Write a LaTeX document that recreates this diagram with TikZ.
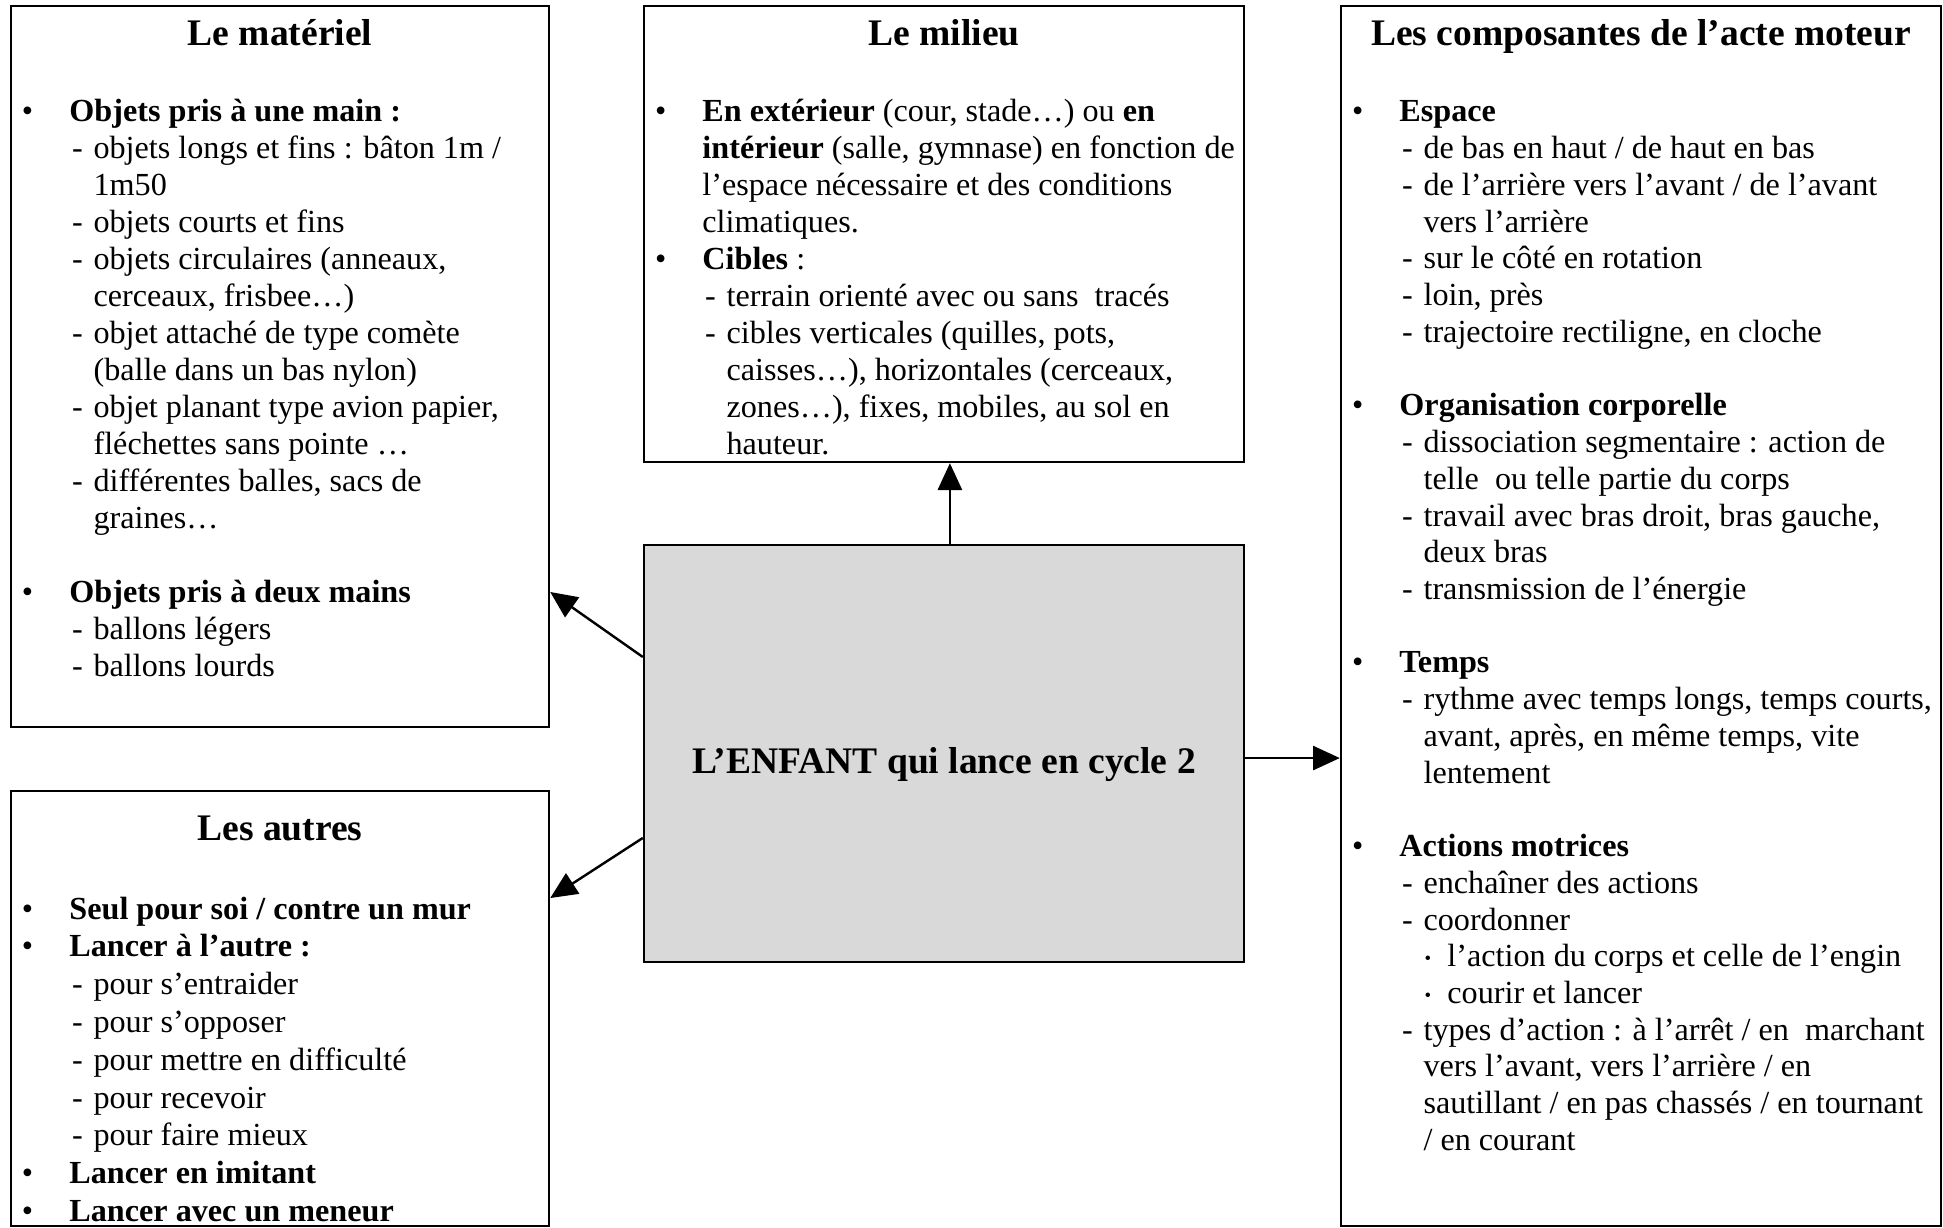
\documentclass[tikz,border=0pt]{standalone}
\usepackage{fontspec}
\setmainfont{Liberation Serif}
\usetikzlibrary{arrows.meta, fit}

% list lines
\newcommand{\bitem}{\hspace*{3.9pt}\makebox[17.7pt][l]{\textbullet}}
\newcommand{\hitem}{\hspace*{21.6pt}}
\newcommand{\ditem}{\hspace*{22.6pt}\makebox[8pt][l]{-}}
\newcommand{\citem}{\hspace*{30.6pt}}
\newcommand{\pitem}{\hspace*{31pt}\makebox[8.5pt][l]{\raisebox{.15ex}{\scriptsize\textbullet}}}

\begin{document}
\begin{tikzpicture}[x=0.373pt,y=-0.373pt,>={Triangle[length=10pt,width=9pt]}]
    % styles
    \tikzset{box/.style={draw,line width=0.9pt,inner sep=0pt},
             ttl/.style={anchor=base,inner sep=0pt,font=\fontsize{14}{16}\selectfont\bfseries},
             txt/.style={anchor=base west,inner sep=0pt,font=\fontsize{12}{13.8}\selectfont},
             arr/.style={->,line width=0.9pt}}
    \useasboundingbox (0,0) rectangle (1943,1228);

    % boxes
    \node[box,fit={(11,6) (549,727)}]     (mat)  {};
    \node[box,fit={(644,6) (1244,462)}]   (mil)  {};
    \node[box,fit={(11,791) (549,1226)}]  (aut)  {};
    \node[box,fit={(1341,6) (1941,1226)}] (comp) {};
    \node[box,fill=black!15,fit={(644,545) (1244,962)}] (enf) {};
    \node[ttl,anchor=center] (enfT) at ([yshift=-4pt]enf.center) {L’ENFANT qui lance en cycle 2};

    % titles
    \node[ttl] (matT)  at (280,46)  {Le matériel};
    \node[ttl] (milT)  at (944,46)  {Le milieu};
    \node[ttl] (autT)  at (280,840) {Les autres};
    \node[ttl] (compT) at (1641,46) {Les composantes de l’acte moteur};

    % lists
    \node[txt] (matL) at (11,122) {\parbox[t]{200pt}{\raggedright
        \bitem\textbf{Objets pris à une main :}\\
        \ditem objets longs et fins : bâton 1m /\\
        \citem 1m50\\
        \ditem objets courts et fins\\
        \ditem objets circulaires (anneaux,\\
        \citem cerceaux, frisbee…)\\
        \ditem objet attaché de type comète\\
        \citem (balle dans un bas nylon)\\
        \ditem objet planant type avion papier,\\
        \citem fléchettes sans pointe …\\
        \ditem différentes balles, sacs de\\
        \citem graines…\\[13.8pt]
        \bitem\textbf{Objets pris à deux mains}\\
        \ditem ballons légers\\
        \ditem ballons lourds}};

    \node[txt] (milL) at (644,122) {\parbox[t]{223pt}{\raggedright
        \bitem\textbf{En extérieur} (cour, stade…) ou \textbf{en}\\
        \hitem\textbf{intérieur} (salle, gymnase) en fonction de\\
        \hitem l’espace nécessaire et des conditions\\
        \hitem climatiques.\\
        \bitem\textbf{Cibles} :\\
        \ditem terrain orienté avec ou sans\ \ tracés\\
        \ditem cibles verticales (quilles, pots,\\
        \citem caisses…), horizontales (cerceaux,\\
        \citem zones…), fixes, mobiles, au sol en\\
        \citem hauteur.}};

    \node[txt] (autL) at (11,919) {\parbox[t]{200pt}{\raggedright
        \fontsize{12}{14.1}\selectfont
        \bitem\textbf{Seul pour soi / contre un mur}\\
        \bitem\textbf{Lancer à l’autre :}\\
        \ditem pour s’entraider\\
        \ditem pour s’opposer\\
        \ditem pour mettre en difficulté\\
        \ditem pour recevoir\\
        \ditem pour faire mieux\\
        \bitem\textbf{Lancer en imitant}\\
        \bitem\textbf{Lancer avec un meneur}}};

    \node[txt] (compL) at (1341,122) {\parbox[t]{223pt}{\raggedright
        \fontsize{12}{13.7}\selectfont
        \bitem\textbf{Espace}\\
        \ditem de bas en haut / de haut en bas\\
        \ditem de l’arrière vers l’avant / de l’avant\\
        \citem vers l’arrière\\
        \ditem sur le côté en rotation\\
        \ditem loin, près\\
        \ditem trajectoire rectiligne, en cloche\\[13.7pt]
        \bitem\textbf{Organisation corporelle}\\
        \ditem dissociation segmentaire : action de\\
        \citem telle\ \ ou telle partie du corps\\
        \ditem travail avec bras droit, bras gauche,\\
        \citem deux bras\\
        \ditem transmission de l’énergie\\[13.7pt]
        \bitem\textbf{Temps}\\
        \ditem rythme avec temps longs, temps courts,\\
        \citem avant, après, en même temps, vite\\
        \citem lentement\\[13.7pt]
        \bitem\textbf{Actions motrices}\\
        \ditem enchaîner des actions\\
        \ditem coordonner\\
        \pitem l’action du corps et celle de l’engin\\
        \pitem courir et lancer\\
        \ditem types d’action : à l’arrêt / en\ \ marchant\\
        \citem vers l’avant, vers l’arrière / en\\
        \citem sautillant / en pas chassés / en tournant\\
        \citem / en courant}};

    % arrows
    \draw[arr] ([xshift=2.2pt]enf.north) -- ([xshift=2.2pt]enf.north |- mil.south);
    \draw[arr] ([yshift=36pt]enf.west) -- ([yshift=-84.1pt]mat.east);
    \draw[arr] ([yshift=-31.5pt]enf.west) -- ([yshift=41.2pt]aut.east);
    \draw[arr] ([yshift=-1.7pt]enf.east) -- ([yshift=-1.7pt]enf.east -| comp.west);
\end{tikzpicture}
\end{document}
